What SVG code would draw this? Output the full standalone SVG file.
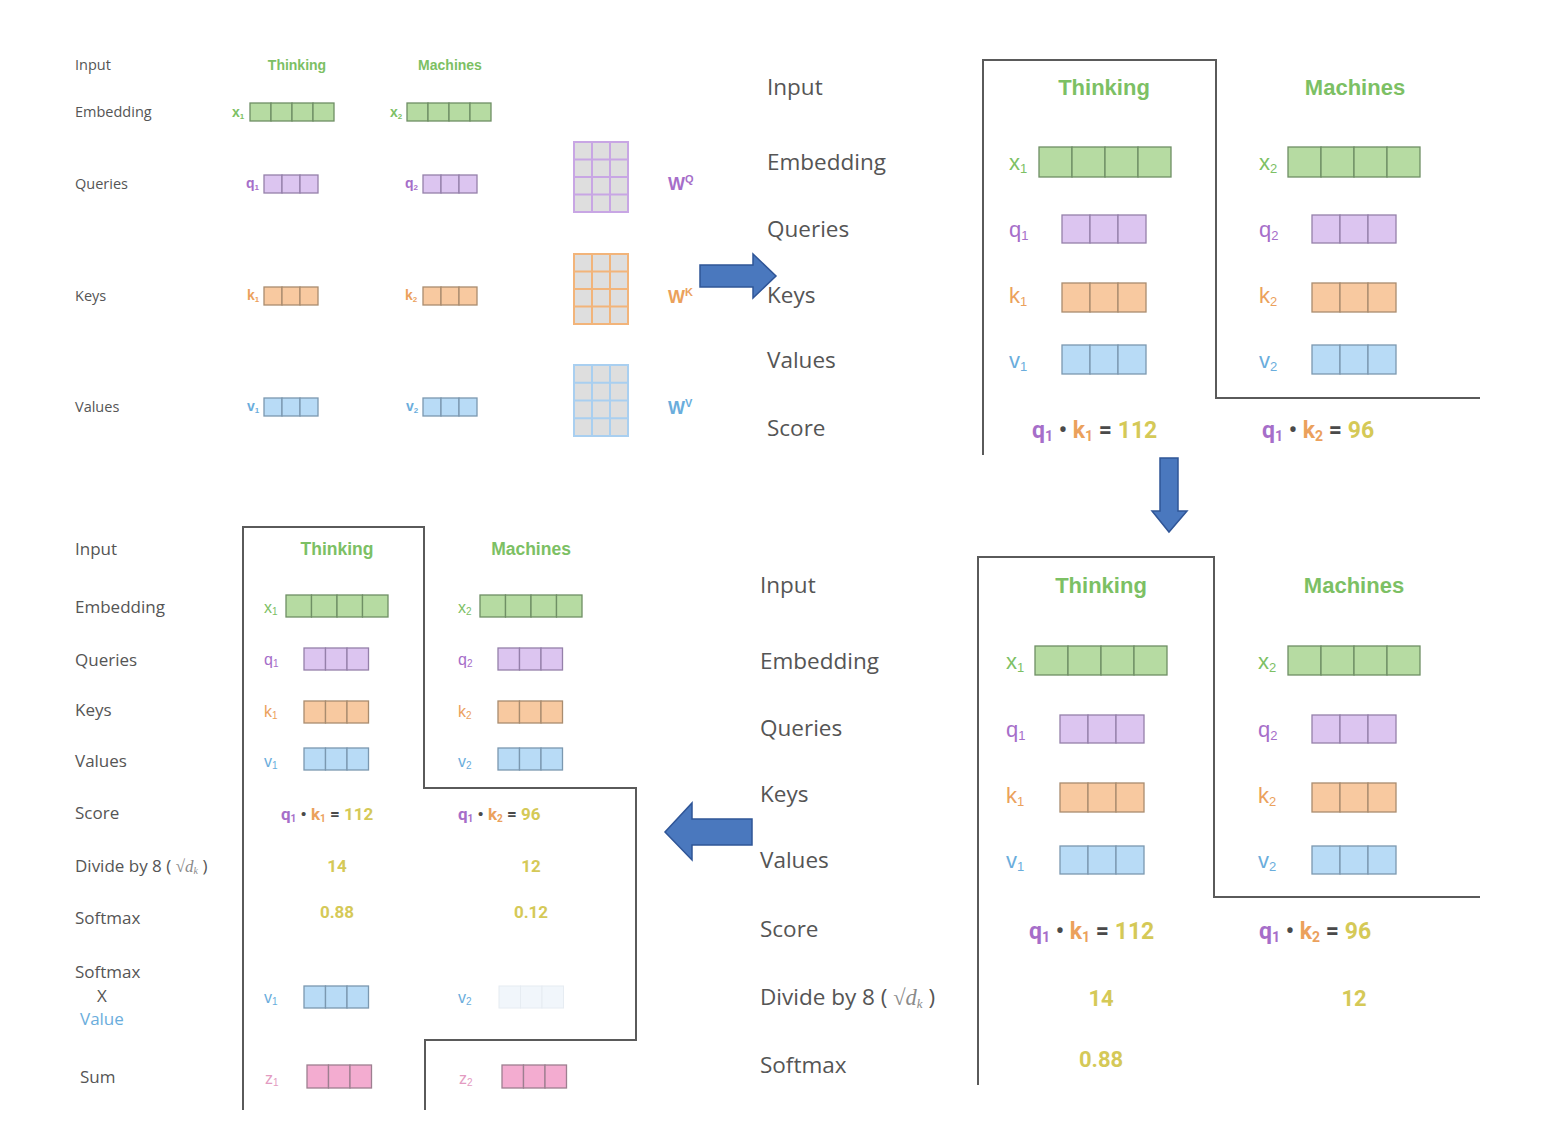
<svg xmlns="http://www.w3.org/2000/svg" width="1562" height="1134" viewBox="0 0 1562 1134">
<defs>
<style>
.lbl{font-family:"Open Sans","Liberation Sans",sans-serif;fill:#555555}
.hd{font-family:"Liberation Sans",Arial,sans-serif;font-weight:bold;fill:#7cc064}
.sym{font-family:"Liberation Sans",Arial,sans-serif}
.num{font-family:Roboto,"Liberation Sans",sans-serif;font-weight:bold}
.g{fill:#7cc064}.pu{fill:#a66ec9}.or{fill:#eba15c}.bl{fill:#6aaddc}.ye{fill:#d5c957}.pk{fill:#e39bc1}.dk{fill:#4a4a4a}
.cg rect{fill:#b6dba2;stroke:#6f8f65;stroke-width:1.3}
.cp rect{fill:#dcc5f0;stroke:#9580aa;stroke-width:1.3}
.co rect{fill:#f8c9a0;stroke:#a98c6f;stroke-width:1.3}
.cb rect{fill:#b8dbf6;stroke:#7b98b0;stroke-width:1.3}
.cz rect{fill:#f3acd0;stroke:#9d7f90;stroke-width:1.3}
.cf rect{fill:#f1f6fb;stroke:#e6ecf2;stroke-width:1}
.frame{fill:none;stroke:#5a5a5a;stroke-width:2}
.arrow{fill:#4a78be;stroke:#2f5597;stroke-width:1.5}
</style>
</defs>

<!-- ===== Panel 1 (top-left) ===== -->
<g id="panel1">
  <g class="lbl" font-size="14.5">
    <text x="75" y="70">Input</text>
    <text x="75" y="117">Embedding</text>
    <text x="75" y="189">Queries</text>
    <text x="75" y="301">Keys</text>
    <text x="75" y="412">Values</text>
  </g>
  <text class="hd" x="297" y="70" font-size="14" text-anchor="middle">Thinking</text>
  <text class="hd" x="450" y="70" font-size="14" text-anchor="middle">Machines</text>
  <g class="sym" font-size="14" font-weight="bold">
    <text class="g" x="232" y="117">x<tspan font-size="8" dy="2">1</tspan></text>
    <text class="g" x="390" y="117">x<tspan font-size="8" dy="2">2</tspan></text>
    <text class="pu" x="246" y="188">q<tspan font-size="8" dy="2">1</tspan></text>
    <text class="pu" x="405" y="188">q<tspan font-size="8" dy="2">2</tspan></text>
    <text class="or" x="247" y="300">k<tspan font-size="8" dy="2">1</tspan></text>
    <text class="or" x="405" y="300">k<tspan font-size="8" dy="2">2</tspan></text>
    <text class="bl" x="247" y="411">v<tspan font-size="8" dy="2">1</tspan></text>
    <text class="bl" x="406" y="411">v<tspan font-size="8" dy="2">2</tspan></text>
  </g>
  <g class="cg"><rect x="250" y="103" width="21" height="18"/><rect x="271" y="103" width="21" height="18"/><rect x="292" y="103" width="21" height="18"/><rect x="313" y="103" width="21" height="18"/></g>
  <g class="cg"><rect x="407" y="103" width="21" height="18"/><rect x="428" y="103" width="21" height="18"/><rect x="449" y="103" width="21" height="18"/><rect x="470" y="103" width="21" height="18"/></g>
  <g class="cp"><rect x="264" y="175" width="18" height="18"/><rect x="282" y="175" width="18" height="18"/><rect x="300" y="175" width="18" height="18"/></g>
  <g class="cp"><rect x="423" y="175" width="18" height="18"/><rect x="441" y="175" width="18" height="18"/><rect x="459" y="175" width="18" height="18"/></g>
  <g class="co"><rect x="264" y="287" width="18" height="18"/><rect x="282" y="287" width="18" height="18"/><rect x="300" y="287" width="18" height="18"/></g>
  <g class="co"><rect x="423" y="287" width="18" height="18"/><rect x="441" y="287" width="18" height="18"/><rect x="459" y="287" width="18" height="18"/></g>
  <g class="cb"><rect x="264" y="398" width="18" height="18"/><rect x="282" y="398" width="18" height="18"/><rect x="300" y="398" width="18" height="18"/></g>
  <g class="cb"><rect x="423" y="398" width="18" height="18"/><rect x="441" y="398" width="18" height="18"/><rect x="459" y="398" width="18" height="18"/></g>
  <!-- weight matrices -->
  <g id="WQ">
    <rect x="574" y="142" width="54" height="70" fill="#dedede" stroke="#c8a6e4" stroke-width="2"/>
    <path d="M592 142V212M610 142V212M574 159.5H628M574 177H628M574 194.5H628" stroke="#c8a6e4" stroke-width="2" fill="none"/>
    <text class="sym pu" x="668" y="190" font-size="18" font-weight="bold">W<tspan font-size="11" dy="-7">Q</tspan></text>
  </g>
  <g id="WK">
    <rect x="574" y="254" width="54" height="70" fill="#dedede" stroke="#f2b47a" stroke-width="2"/>
    <path d="M592 254V324M610 254V324M574 271.5H628M574 289H628M574 306.5H628" stroke="#f2b47a" stroke-width="2" fill="none"/>
    <text class="sym or" x="668" y="303" font-size="18" font-weight="bold">W<tspan font-size="11" dy="-7">K</tspan></text>
  </g>
  <g id="WV">
    <rect x="574" y="365" width="54" height="71" fill="#dedede" stroke="#a9cff0" stroke-width="2"/>
    <path d="M592 365V436M610 365V436M574 382.75H628M574 400.5H628M574 418.25H628" stroke="#a9cff0" stroke-width="2" fill="none"/>
    <text class="sym bl" x="668" y="414" font-size="18" font-weight="bold">W<tspan font-size="11" dy="-7">V</tspan></text>
  </g>
</g>

<!-- ===== Panel 2 (top-right) ===== -->
<g id="panel2">
  <path class="frame" d="M983 455V60H1216V398H1480"/>
  <g class="lbl" font-size="22.5">
    <text x="767" y="95">Input</text>
    <text x="767" y="170">Embedding</text>
    <text x="767" y="237">Queries</text>
    <text x="767" y="303">Keys</text>
    <text x="767" y="368">Values</text>
    <text x="767" y="436">Score</text>
  </g>
  <text class="hd" x="1104" y="95" font-size="22" text-anchor="middle">Thinking</text>
  <text class="hd" x="1355" y="95" font-size="22" text-anchor="middle">Machines</text>
  <g class="sym" font-size="22">
    <text class="g" x="1009" y="170">x<tspan font-size="13" dy="3">1</tspan></text>
    <text class="g" x="1259" y="170">x<tspan font-size="13" dy="3">2</tspan></text>
    <text class="pu" x="1009" y="237">q<tspan font-size="13" dy="3">1</tspan></text>
    <text class="pu" x="1259" y="237">q<tspan font-size="13" dy="3">2</tspan></text>
    <text class="or" x="1009" y="303">k<tspan font-size="13" dy="3">1</tspan></text>
    <text class="or" x="1259" y="303">k<tspan font-size="13" dy="3">2</tspan></text>
    <text class="bl" x="1009" y="368">v<tspan font-size="13" dy="3">1</tspan></text>
    <text class="bl" x="1259" y="368">v<tspan font-size="13" dy="3">2</tspan></text>
  </g>
  <g class="cg"><rect x="1039" y="147" width="33" height="30"/><rect x="1072" y="147" width="33" height="30"/><rect x="1105" y="147" width="33" height="30"/><rect x="1138" y="147" width="33" height="30"/></g>
  <g class="cg"><rect x="1288" y="147" width="33" height="30"/><rect x="1321" y="147" width="33" height="30"/><rect x="1354" y="147" width="33" height="30"/><rect x="1387" y="147" width="33" height="30"/></g>
  <g class="cp"><rect x="1062" y="215" width="28" height="28"/><rect x="1090" y="215" width="28" height="28"/><rect x="1118" y="215" width="28" height="28"/></g>
  <g class="cp"><rect x="1312" y="215" width="28" height="28"/><rect x="1340" y="215" width="28" height="28"/><rect x="1368" y="215" width="28" height="28"/></g>
  <g class="co"><rect x="1062" y="283" width="28" height="29"/><rect x="1090" y="283" width="28" height="29"/><rect x="1118" y="283" width="28" height="29"/></g>
  <g class="co"><rect x="1312" y="283" width="28" height="29"/><rect x="1340" y="283" width="28" height="29"/><rect x="1368" y="283" width="28" height="29"/></g>
  <g class="cb"><rect x="1062" y="345" width="28" height="29"/><rect x="1090" y="345" width="28" height="29"/><rect x="1118" y="345" width="28" height="29"/></g>
  <g class="cb"><rect x="1312" y="345" width="28" height="29"/><rect x="1340" y="345" width="28" height="29"/><rect x="1368" y="345" width="28" height="29"/></g>
  <text class="num" x="1032" y="438" font-size="23"><tspan class="pu">q</tspan><tspan class="pu" font-size="14" dy="3">1</tspan><tspan class="dk" dy="-3"> • </tspan><tspan class="or">k</tspan><tspan class="or" font-size="14" dy="3">1</tspan><tspan class="dk" dy="-3"> = </tspan><tspan class="ye">112</tspan></text>
  <text class="num" x="1262" y="438" font-size="23"><tspan class="pu">q</tspan><tspan class="pu" font-size="14" dy="3">1</tspan><tspan class="dk" dy="-3"> • </tspan><tspan class="or">k</tspan><tspan class="or" font-size="14" dy="3">2</tspan><tspan class="dk" dy="-3"> = </tspan><tspan class="ye">96</tspan></text>
</g>

<!-- ===== Panel 3 (bottom-right) ===== -->
<g id="panel3">
  <path class="frame" d="M978 1085V557H1214V897H1480"/>
  <g class="lbl" font-size="22.5">
    <text x="760" y="593">Input</text>
    <text x="760" y="669">Embedding</text>
    <text x="760" y="736">Queries</text>
    <text x="760" y="802">Keys</text>
    <text x="760" y="868">Values</text>
    <text x="760" y="937">Score</text>
    <text x="760" y="1005">Divide by 8 ( <tspan font-family="'Liberation Serif',serif" fill="#8a8a8a">√</tspan><tspan font-family="'Liberation Serif',serif" font-style="italic" fill="#8a8a8a">d</tspan><tspan font-family="'Liberation Serif',serif" font-style="italic" fill="#8a8a8a" font-size="13" dy="3">k</tspan><tspan dy="-3">  )</tspan></text>
    <text x="760" y="1073">Softmax</text>
  </g>
  <text class="hd" x="1101" y="593" font-size="22" text-anchor="middle">Thinking</text>
  <text class="hd" x="1354" y="593" font-size="22" text-anchor="middle">Machines</text>
  <g class="sym" font-size="22">
    <text class="g" x="1006" y="669">x<tspan font-size="13" dy="3">1</tspan></text>
    <text class="g" x="1258" y="669">x<tspan font-size="13" dy="3">2</tspan></text>
    <text class="pu" x="1006" y="737">q<tspan font-size="13" dy="3">1</tspan></text>
    <text class="pu" x="1258" y="737">q<tspan font-size="13" dy="3">2</tspan></text>
    <text class="or" x="1006" y="803">k<tspan font-size="13" dy="3">1</tspan></text>
    <text class="or" x="1258" y="803">k<tspan font-size="13" dy="3">2</tspan></text>
    <text class="bl" x="1006" y="868">v<tspan font-size="13" dy="3">1</tspan></text>
    <text class="bl" x="1258" y="868">v<tspan font-size="13" dy="3">2</tspan></text>
  </g>
  <g class="cg"><rect x="1035" y="646" width="33" height="29"/><rect x="1068" y="646" width="33" height="29"/><rect x="1101" y="646" width="33" height="29"/><rect x="1134" y="646" width="33" height="29"/></g>
  <g class="cg"><rect x="1288" y="646" width="33" height="29"/><rect x="1321" y="646" width="33" height="29"/><rect x="1354" y="646" width="33" height="29"/><rect x="1387" y="646" width="33" height="29"/></g>
  <g class="cp"><rect x="1060" y="715" width="28" height="28"/><rect x="1088" y="715" width="28" height="28"/><rect x="1116" y="715" width="28" height="28"/></g>
  <g class="cp"><rect x="1312" y="715" width="28" height="28"/><rect x="1340" y="715" width="28" height="28"/><rect x="1368" y="715" width="28" height="28"/></g>
  <g class="co"><rect x="1060" y="783" width="28" height="29"/><rect x="1088" y="783" width="28" height="29"/><rect x="1116" y="783" width="28" height="29"/></g>
  <g class="co"><rect x="1312" y="783" width="28" height="29"/><rect x="1340" y="783" width="28" height="29"/><rect x="1368" y="783" width="28" height="29"/></g>
  <g class="cb"><rect x="1060" y="846" width="28" height="28"/><rect x="1088" y="846" width="28" height="28"/><rect x="1116" y="846" width="28" height="28"/></g>
  <g class="cb"><rect x="1312" y="846" width="28" height="28"/><rect x="1340" y="846" width="28" height="28"/><rect x="1368" y="846" width="28" height="28"/></g>
  <text class="num" x="1029" y="939" font-size="23"><tspan class="pu">q</tspan><tspan class="pu" font-size="14" dy="3">1</tspan><tspan class="dk" dy="-3"> • </tspan><tspan class="or">k</tspan><tspan class="or" font-size="14" dy="3">1</tspan><tspan class="dk" dy="-3"> = </tspan><tspan class="ye">112</tspan></text>
  <text class="num" x="1259" y="939" font-size="23"><tspan class="pu">q</tspan><tspan class="pu" font-size="14" dy="3">1</tspan><tspan class="dk" dy="-3"> • </tspan><tspan class="or">k</tspan><tspan class="or" font-size="14" dy="3">2</tspan><tspan class="dk" dy="-3"> = </tspan><tspan class="ye">96</tspan></text>
  <g class="num ye" font-size="22" text-anchor="middle">
    <text x="1101" y="1006">14</text>
    <text x="1354" y="1006">12</text>
    <text x="1101" y="1067">0.88</text>
  </g>
</g>

<!-- ===== Panel 4 (bottom-left) ===== -->
<g id="panel4">
  <path class="frame" d="M243 1110V527H424V788H636V1040H425V1110"/>
  <g class="lbl" font-size="17">
    <text x="75" y="555">Input</text>
    <text x="75" y="613">Embedding</text>
    <text x="75" y="666">Queries</text>
    <text x="75" y="716">Keys</text>
    <text x="75" y="767">Values</text>
    <text x="75" y="819">Score</text>
    <text x="75" y="872">Divide by 8 ( <tspan font-family="'Liberation Serif',serif" fill="#8a8a8a">√</tspan><tspan font-family="'Liberation Serif',serif" font-style="italic" fill="#8a8a8a">d</tspan><tspan font-family="'Liberation Serif',serif" font-style="italic" fill="#8a8a8a" font-size="10" dy="2">k</tspan><tspan dy="-2">  )</tspan></text>
    <text x="75" y="924">Softmax</text>
    <text x="75" y="978">Softmax</text>
    <text x="97" y="1002">X</text>
    <text x="80" y="1025" class="bl">Value</text>
    <text x="80" y="1083">Sum</text>
  </g>
  <text class="hd" x="337" y="555" font-size="17.5" text-anchor="middle">Thinking</text>
  <text class="hd" x="531" y="555" font-size="17.5" text-anchor="middle">Machines</text>
  <g class="sym" font-size="16">
    <text class="g" x="264" y="613">x<tspan font-size="10" dy="2">1</tspan></text>
    <text class="g" x="458" y="613">x<tspan font-size="10" dy="2">2</tspan></text>
    <text class="pu" x="264" y="665">q<tspan font-size="10" dy="2">1</tspan></text>
    <text class="pu" x="458" y="665">q<tspan font-size="10" dy="2">2</tspan></text>
    <text class="or" x="264" y="717">k<tspan font-size="10" dy="2">1</tspan></text>
    <text class="or" x="458" y="717">k<tspan font-size="10" dy="2">2</tspan></text>
    <text class="bl" x="264" y="767">v<tspan font-size="10" dy="2">1</tspan></text>
    <text class="bl" x="458" y="767">v<tspan font-size="10" dy="2">2</tspan></text>
    <text class="bl" x="264" y="1003">v<tspan font-size="10" dy="2">1</tspan></text>
    <text class="bl" x="458" y="1003">v<tspan font-size="10" dy="2">2</tspan></text>
    <text class="pk" x="265" y="1084">z<tspan font-size="10" dy="2">1</tspan></text>
    <text class="pk" x="459" y="1084">z<tspan font-size="10" dy="2">2</tspan></text>
  </g>
  <g class="cg"><rect x="286" y="595" width="25.5" height="22"/><rect x="311.5" y="595" width="25.5" height="22"/><rect x="337" y="595" width="25.5" height="22"/><rect x="362.5" y="595" width="25.5" height="22"/></g>
  <g class="cg"><rect x="480" y="595" width="25.5" height="22"/><rect x="505.5" y="595" width="25.5" height="22"/><rect x="531" y="595" width="25.5" height="22"/><rect x="556.5" y="595" width="25.5" height="22"/></g>
  <g class="cp"><rect x="304" y="648" width="21.5" height="22"/><rect x="325.5" y="648" width="21.5" height="22"/><rect x="347" y="648" width="21.5" height="22"/></g>
  <g class="cp"><rect x="498" y="648" width="21.5" height="22"/><rect x="519.5" y="648" width="21.5" height="22"/><rect x="541" y="648" width="21.5" height="22"/></g>
  <g class="co"><rect x="304" y="701" width="21.5" height="22"/><rect x="325.5" y="701" width="21.5" height="22"/><rect x="347" y="701" width="21.5" height="22"/></g>
  <g class="co"><rect x="498" y="701" width="21.5" height="22"/><rect x="519.5" y="701" width="21.5" height="22"/><rect x="541" y="701" width="21.5" height="22"/></g>
  <g class="cb"><rect x="304" y="748" width="21.5" height="22"/><rect x="325.5" y="748" width="21.5" height="22"/><rect x="347" y="748" width="21.5" height="22"/></g>
  <g class="cb"><rect x="498" y="748" width="21.5" height="22"/><rect x="519.5" y="748" width="21.5" height="22"/><rect x="541" y="748" width="21.5" height="22"/></g>
  <text class="num" x="281" y="820" font-size="17"><tspan class="pu">q</tspan><tspan class="pu" font-size="10" dy="2">1</tspan><tspan class="dk" dy="-2"> • </tspan><tspan class="or">k</tspan><tspan class="or" font-size="10" dy="2">1</tspan><tspan class="dk" dy="-2"> = </tspan><tspan class="ye">112</tspan></text>
  <text class="num" x="458" y="820" font-size="17"><tspan class="pu">q</tspan><tspan class="pu" font-size="10" dy="2">1</tspan><tspan class="dk" dy="-2"> • </tspan><tspan class="or">k</tspan><tspan class="or" font-size="10" dy="2">2</tspan><tspan class="dk" dy="-2"> = </tspan><tspan class="ye">96</tspan></text>
  <g class="num ye" font-size="17" text-anchor="middle">
    <text x="337" y="872">14</text>
    <text x="531" y="872">12</text>
    <text x="337" y="918">0.88</text>
    <text x="531" y="918">0.12</text>
  </g>
  <g class="cb"><rect x="304" y="986" width="21.5" height="22"/><rect x="325.5" y="986" width="21.5" height="22"/><rect x="347" y="986" width="21.5" height="22"/></g>
  <g class="cf"><rect x="499" y="986" width="21.5" height="22"/><rect x="520.5" y="986" width="21.5" height="22"/><rect x="542" y="986" width="21.5" height="22"/></g>
  <g class="cz"><rect x="307" y="1065" width="21.5" height="23"/><rect x="328.5" y="1065" width="21.5" height="23"/><rect x="350" y="1065" width="21.5" height="23"/></g>
  <g class="cz"><rect x="502" y="1065" width="21.5" height="23"/><rect x="523.5" y="1065" width="21.5" height="23"/><rect x="545" y="1065" width="21.5" height="23"/></g>
</g>

<!-- ===== Connectors (block arrows) ===== -->
<g id="connectors">
  <polygon class="arrow" points="700,265 753,265 753,254 776,276 753,298 753,287 700,287"/>
  <polygon class="arrow" points="1160,458 1178,458 1178,511 1187,511 1169,532 1152,511 1160,511"/>
  <polygon class="arrow" points="752,819 692,819 692,803 665,832 692,860 692,845 752,845"/>
</g>
</svg>
